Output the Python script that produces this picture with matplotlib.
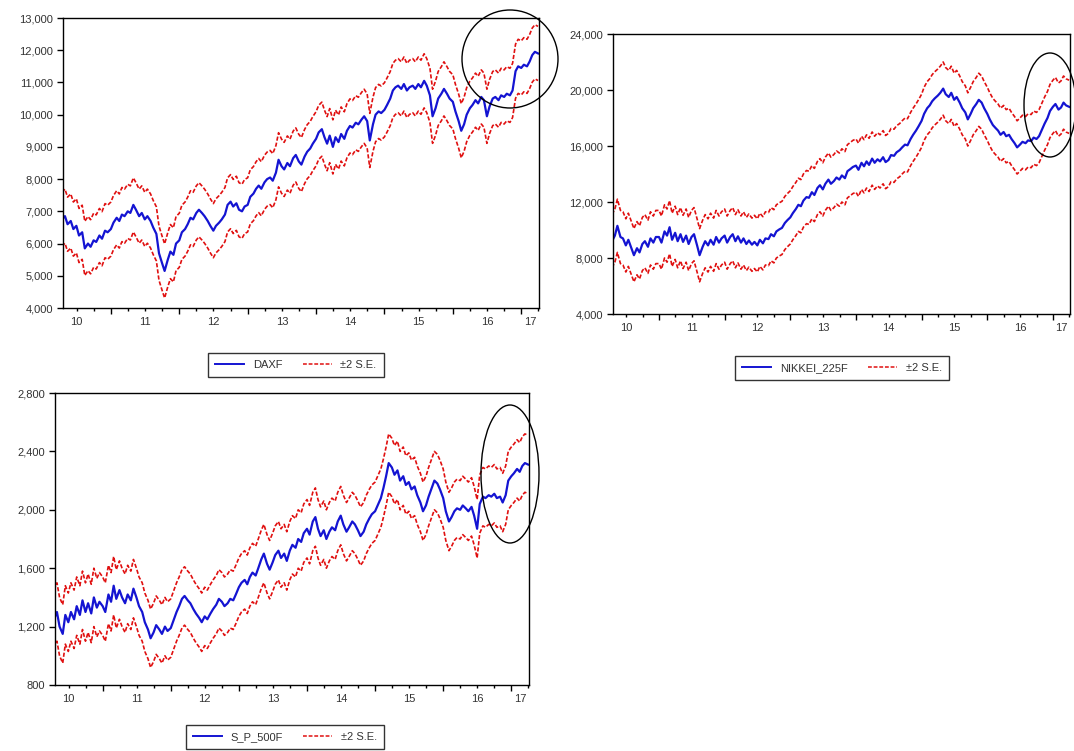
import numpy as np
import pandas as pd
import matplotlib
matplotlib.use("Agg")
import matplotlib.pyplot as plt
from matplotlib.patches import Ellipse
from matplotlib.lines import Line2D
from matplotlib.ticker import FuncFormatter
from matplotlib.transforms import blended_transform_factory

plt.rcParams["font.family"] = ["Liberation Sans", "DejaVu Sans"]

# semi-monthly observation dates of the forecast sample
dates = pd.date_range("2010-04-15", "2017-04-01", freq="SMS")

daxf = [
    6750, 6850, 6600, 6700, 6450, 6550, 6250, 6350, 5850, 6000, 5900, 6100, 6050, 6250, 6150, 6400, 6350,
    6450, 6650, 6800, 6700, 6900, 6850, 7000, 6950, 7200, 7050, 6850, 6950, 6750, 6850, 6700, 6500, 6300, 5700, 5400, 5150, 5500, 5750, 5650, 6000,
    6100, 6350, 6450, 6600, 6800, 6750, 6950, 7050, 6950, 6850, 6700, 6550, 6400, 6550, 6650, 6750, 6900, 7200, 7300, 7150, 7250, 7050, 7000, 7150,
    7200, 7450, 7550, 7700, 7800, 7700, 7900, 8000, 8050, 7950, 8200, 8600, 8400, 8300, 8500, 8400, 8650, 8750, 8550, 8450, 8700, 8850, 8950, 9100,
    9250, 9450, 9550, 9300, 9100, 9350, 9000, 9300, 9150, 9400, 9250, 9500, 9650, 9600, 9750, 9700, 9850, 9950, 9800, 9200, 9700, 10000, 10100, 10050,
    10150, 10300, 10500, 10750, 10850, 10900, 10800, 10950, 10750, 10850, 10900, 10800, 10950, 10850, 11050, 10900, 10600, 9950, 10200, 10500, 10650, 10800, 10650, 10500,
    10400, 10100, 9800, 9500, 9700, 10000, 10200, 10300, 10450, 10350, 10550, 10450, 9950, 10250, 10500, 10550, 10450, 10600, 10550, 10650, 10600, 10750, 11350, 11500,
    11450, 11550, 11500, 11650, 11850, 11950, 11900,
]

nikkei_225f = [
    9200, 9600, 10300, 9500, 9400, 8900, 9300, 8700, 8200, 8700, 8400, 9000, 9200, 8800, 9400, 9100, 9500,
    9500, 9100, 9900, 9600, 10200, 9300, 9800, 9200, 9700, 9150, 9600, 9000, 9500, 9700, 8900, 8200, 8800, 9200, 8900, 9300, 8950, 9500, 9100, 9400,
    9600, 9100, 9500, 9700, 9200, 9550, 9100, 9400, 9000, 9250, 8950, 9150, 8900, 9300, 9050, 9400, 9350, 9700, 9550, 9900, 10050, 10150, 10500, 10700,
    10900, 11200, 11500, 11800, 11700, 12100, 12350, 12300, 12700, 12500, 13000, 13200, 12900, 13300, 13600, 13300, 13500, 13750, 13600, 13900, 13700, 14200, 14350, 14500,
    14600, 14300, 14800, 14550, 14900, 14650, 15100, 14800, 15050, 14900, 15200, 14850, 15000, 15350, 15300, 15550, 15700, 15900, 16100, 16050, 16500, 16800, 17100, 17400,
    17800, 18300, 18700, 18900, 19200, 19400, 19600, 19800, 20100, 19700, 19500, 19800, 19300, 19500, 19100, 18700, 18400, 17900, 18300, 18700, 19000, 19300, 19100, 18700,
    18300, 17900, 17500, 17300, 17100, 16800, 17000, 16700, 16800, 16500, 16200, 15900, 16100, 16300, 16200, 16400, 16350, 16600, 16500, 16700, 17200, 17600, 18000, 18500,
    18800, 19000, 18600, 18750, 19100, 18900, 18800,
]

s_p_500f = [
    1250, 1300, 1200, 1150, 1280, 1230, 1300, 1250, 1340, 1280, 1380, 1300, 1360, 1290, 1400, 1330, 1370,
    1340, 1300, 1420, 1370, 1480, 1390, 1450, 1400, 1360, 1420, 1380, 1460, 1400, 1340, 1300, 1230, 1180, 1120, 1160, 1210, 1180, 1150, 1200, 1170,
    1190, 1240, 1300, 1340, 1390, 1410, 1380, 1360, 1320, 1290, 1260, 1230, 1270, 1250, 1290, 1320, 1350, 1390, 1370, 1340, 1360, 1390, 1380, 1420,
    1470, 1500, 1520, 1490, 1540, 1570, 1550, 1600, 1660, 1700, 1630, 1590, 1640, 1690, 1720, 1670, 1700, 1650, 1720, 1760, 1740, 1800, 1780, 1840,
    1870, 1830, 1920, 1950, 1870, 1820, 1860, 1800, 1850, 1880, 1860, 1920, 1960, 1900, 1850, 1880, 1920, 1900, 1860, 1820, 1850, 1900, 1940, 1970,
    1990, 2030, 2080, 2150, 2230, 2320, 2290, 2240, 2270, 2200, 2230, 2170, 2190, 2140, 2160, 2100, 2050, 1990, 2030, 2090, 2150, 2200, 2180, 2140,
    2080, 1990, 1920, 1950, 1990, 2010, 2000, 2030, 2010, 1990, 2020, 1960, 1870, 2040, 2090, 2080, 2100, 2090, 2110, 2080, 2090, 2050, 2100, 2200,
    2230, 2250, 2280, 2260, 2300, 2320, 2310,
]

# forecast standard errors
daxf_se = 420
nikkei_se = 950
sp_se = 100

years = [2010, 2011, 2012, 2013, 2014, 2015, 2016, 2017]
year_labels = ["10", "11", "12", "13", "14", "15", "16", "17"]

BLUE = "#1414d2"
RED = "#e01010"
W, H = 1074, 751


def decimal_year(d):
    return np.asarray(d.year + (d.dayofyear - 1) / 365.25, dtype=float)


def plot_forecast(ax, t, y, se, yticks, xlim, label_off):
    y = np.asarray(y, dtype=float)
    ax.plot(t, y + 2*se, color=RED, lw=1.2, ls=(0, (2.5, 1.2)))
    ax.plot(t, y - 2*se, color=RED, lw=1.2, ls=(0, (2.5, 1.2)))
    ax.plot(t, y, color=BLUE, lw=1.6)
    ax.set_xlim(xlim)
    ax.set_ylim(yticks[0], yticks[-1])
    ax.set_yticks(yticks)
    ax.yaxis.set_major_formatter(FuncFormatter(lambda v, p: "{:,.0f}".format(v)))
    ax.set_xticks([yr for yr in years if xlim[0] < yr < xlim[1]])
    ax.set_xticklabels([])
    q = [yr + f for yr in years for f in (0.25, 0.5, 0.75) if xlim[0] < yr + f < xlim[1]]
    ax.set_xticks(q, minor=True)
    ax.tick_params(axis="both", which="major", direction="out", length=4, width=1,
                   labelsize=8, labelcolor="#333333", pad=3)
    ax.tick_params(axis="x", which="minor", direction="out", length=2, width=1)
    for s in ax.spines.values():
        s.set_linewidth(1.0)
        s.set_color("black")
    tr = blended_transform_factory(ax.transData, ax.transAxes)
    for yr, lab in zip(years, year_labels):
        if xlim[0] < yr + 0.5 < xlim[1]:
            xpos = yr + 0.5
        else:
            xpos = (max(yr, xlim[0]) + min(yr + 1, xlim[1])) / 2
        ax.text(xpos, -label_off, lab, transform=tr, ha="center", va="center",
                fontsize=8, color="#333333")


def add_legend(fig, name, cx, cy):
    handles = [Line2D([], [], color=BLUE, lw=1.4),
               Line2D([], [], color=RED, lw=1.1, ls=(0, (2.5, 1.2)))]
    leg = fig.legend(handles, [name, "\u00b12 S.E."], loc="center",
                     bbox_to_anchor=(cx / W, 1 - cy / H), ncol=2, fontsize=8,
                     frameon=True, fancybox=False, edgecolor="black",
                     handlelength=2.6, columnspacing=1.8, borderpad=0.65,
                     handletextpad=0.8)
    leg.get_frame().set_linewidth(1.0)
    for txt in leg.get_texts():
        txt.set_color("#333333")


def add_ellipse(fig, cx, cy, w, h):
    fig.add_artist(Ellipse((cx / W, 1 - cy / H), w / W, h / H,
                           transform=fig.transFigure, fill=False,
                           edgecolor="black", lw=1.0))


t = decimal_year(dates)
xlim = (2010.30, 2017.26)

fig = plt.figure(figsize=(W / 100, H / 100), dpi=100)
ax1 = fig.add_axes([63 / W, 1 - 308 / H, 476 / W, 290 / H])
ax2 = fig.add_axes([613 / W, 1 - 314 / H, 457 / W, 280 / H])
ax3 = fig.add_axes([55 / W, 1 - 685 / H, 474 / W, 292 / H])

plot_forecast(ax1, t, daxf, daxf_se, np.arange(4000, 13001, 1000), xlim, 0.048)
plot_forecast(ax2, t, nikkei_225f, nikkei_se, np.arange(4000, 24001, 4000), xlim, 0.05)
plot_forecast(ax3, t, s_p_500f, sp_se, np.arange(800, 2801, 400), xlim, 0.048)

add_legend(fig, "DAXF", 296, 365)
add_legend(fig, "NIKKEI_225F", 842, 368)
add_legend(fig, "S_P_500F", 285, 737)

add_ellipse(fig, 510, 59, 96, 98)
add_ellipse(fig, 1050, 105, 52, 104)
add_ellipse(fig, 510, 474, 58, 138)

fig.savefig("out.png", dpi=100)
